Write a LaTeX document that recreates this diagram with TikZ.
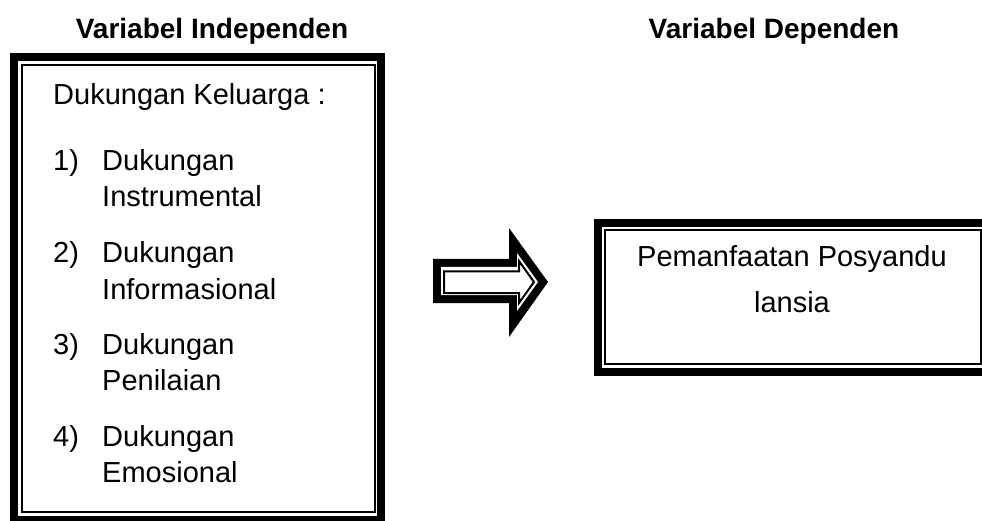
\documentclass[tikz,border=0pt]{standalone}
\usepackage{fontspec}
\setmainfont{Liberation Sans}
\begin{document}
\begin{tikzpicture}[x=1pt,y=-1pt,
  txt/.style={inner sep=0pt, font=\fontsize{29}{29}\selectfont},
  headtxt/.style={inner sep=0pt, font=\fontsize{28}{28}\selectfont\bfseries},
  thickline/.style={line width=8pt, line join=miter},
  thinline/.style={line width=2pt, line join=miter}]
\useasboundingbox (0,0) rectangle (982,521);
% headings
\node[headtxt, anchor=base] (hind) at (212,39) {Variabel Independen};
\node[headtxt, anchor=base] (hdep) at (774,39) {Variabel Dependen};
% left box
\draw[thickline] (14,57) rectangle (381,520);
\draw[thinline] (22,65) rectangle (375,512);
\node[txt, anchor=base west] (kel) at (53,105) {Dukungan Keluarga :};
\node[txt, anchor=base west] (n1) at (53,171) {1)};
\node[txt, anchor=base west] (a1) at (102,171) {Dukungan};
\node[txt, anchor=base west] (b1) at (102,207) {Instrumental};
\node[txt, anchor=base west] (n2) at (53,263) {2)};
\node[txt, anchor=base west] (a2) at (102,263) {Dukungan};
\node[txt, anchor=base west] (b2) at (102,299) {Informasional};
\node[txt, anchor=base west] (n3) at (53,354) {3)};
\node[txt, anchor=base west] (a3) at (102,354) {Dukungan};
\node[txt, anchor=base west] (b3) at (102,390) {Penilaian};
\node[txt, anchor=base west] (n4) at (53,446) {4)};
\node[txt, anchor=base west] (a4) at (102,446) {Dukungan};
\node[txt, anchor=base west] (b4) at (102,482) {Emosional};
% block arrow
\fill[black] (433,259) -- (509,259) -- (509,228) -- (548,282) -- (509,337) -- (509,303) -- (433,303) -- cycle;
\fill[white] (441,267) -- (517,267) -- (517,253) -- (538,282) -- (517,311) -- (517,295) -- (441,295) -- cycle;
\draw[thinline] (444,271.5) -- (519,271.5) -- (519,261) -- (534,282) -- (519,303) -- (519,293) -- (444,293) -- cycle;
% right box
\draw[thickline] (598,223.5) rectangle (990,372);
\draw[thinline] (604.5,230.5) rectangle (980.5,364);
\node[txt, anchor=base] (p1) at (792,267) {Pemanfaatan Posyandu};
\node[txt, anchor=base] (p2) at (792,312) {lansia};
\end{tikzpicture}
\end{document}
